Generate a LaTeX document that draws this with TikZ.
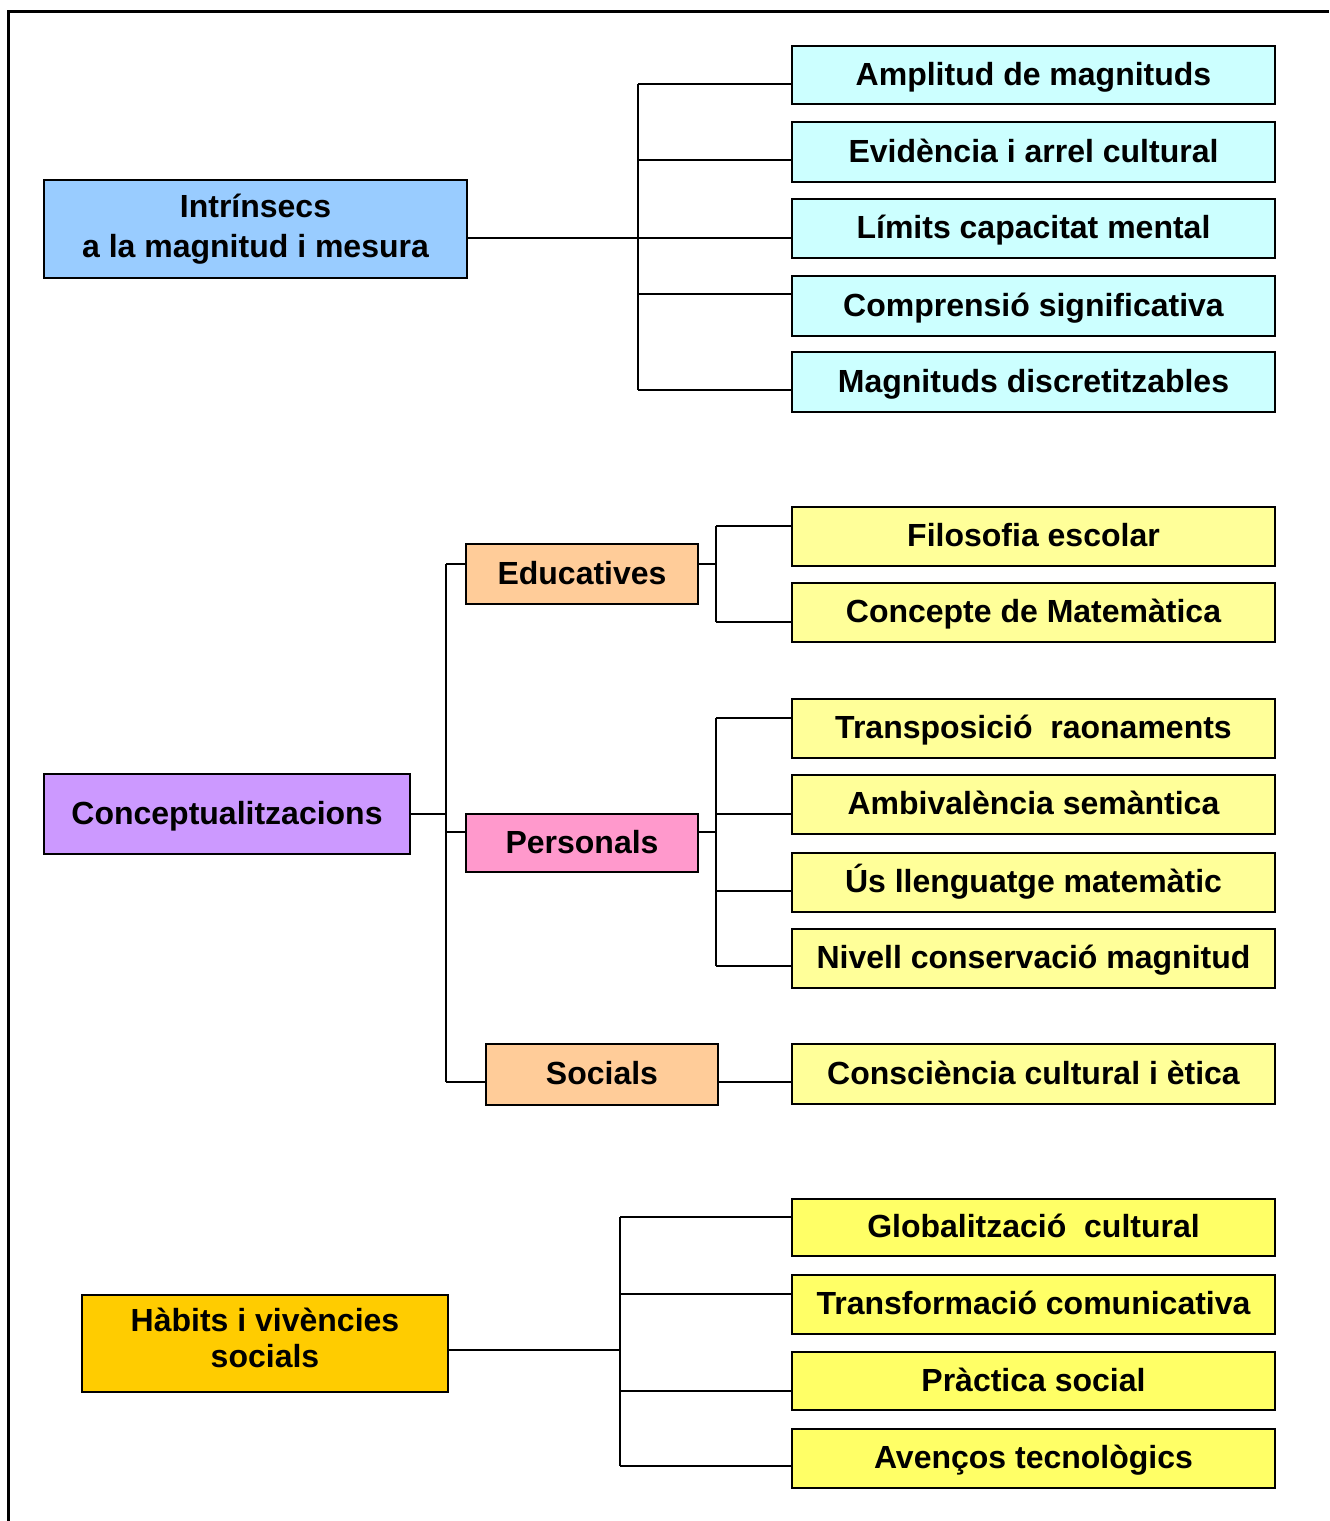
\documentclass[tikz,border=0pt]{standalone}
\usepackage{fontspec}
\setmainfont{Liberation Sans}

\definecolor{cyanbox}{HTML}{CCFFFF}
\definecolor{bluebox}{HTML}{99CCFF}
\definecolor{violetbox}{HTML}{CC99FF}
\definecolor{peachbox}{HTML}{FFCC99}
\definecolor{pinkbox}{HTML}{FF99CC}
\definecolor{paleyellow}{HTML}{FFFF99}
\definecolor{brightyellow}{HTML}{FFFF66}
\definecolor{goldbox}{HTML}{FFCC00}

\begin{document}
\begin{tikzpicture}[x=0.75pt,y=-0.75pt,
  box/.style={draw=black, line width=1.5pt, inner sep=0pt, align=center,
    font=\bfseries\fontsize{24}{30}\selectfont},
  oneline/.style={box, text height=19.5pt, text depth=4pt},
  % rectangle given by its corners x1,y1,x2,y2
  rect/.style n args={4}{minimum width={(#3-#1)*0.75pt},
    minimum height={(#4-#2)*0.75pt}, at={({(#1+#3)/2},{(#2+#4)/2})}},
  link/.style={draw=black, line width=1.5pt},
  frameline/.style={draw=black, line width=2.4pt, line join=miter}]
\useasboundingbox (0,0) rectangle (1329,1521);

% outer frame (only top and left edges fall inside the page)
\draw[frameline] (8.5,1521) -- (8.5,11.5) -- (1329,11.5);

% ---------- first group ----------
\node[box, fill=bluebox, rect={44}{180}{467}{278}] (intr) {Intrínsecs\\a la magnitud i mesura};
\node[oneline, fill=cyanbox, rect={792}{46}{1275}{104}]  (amp)  {Amplitud de magnituds};
\node[oneline, fill=cyanbox, rect={792}{122}{1275}{182}] (evi)  {Evidència i arrel cultural};
\node[oneline, fill=cyanbox, rect={792}{199}{1275}{258}] (lim)  {Límits capacitat mental};
\node[oneline, fill=cyanbox, rect={792}{276}{1275}{336}] (comp) {Comprensió significativa};
\node[oneline, fill=cyanbox, rect={792}{352}{1275}{412}] (disc) {Magnituds discretitzables};

\coordinate (t1) at (638,84);
\coordinate (t2) at (638,160);
\coordinate (tm) at (638,238);
\coordinate (t4) at (638,294);
\coordinate (t5) at (638,390);
\draw[link] (intr.east |- tm) -- (lim.west |- tm);
\draw[link] (t1) -- (t5);
\draw[link] (t1) -- (amp.west |- t1);
\draw[link] (t2) -- (evi.west |- t2);
\draw[link] (t4) -- (comp.west |- t4);
\draw[link] (t5) -- (disc.west |- t5);

% ---------- second group ----------
\node[oneline, fill=violetbox, rect={44}{774}{410}{854}] (conc) {Conceptualitzacions};
\node[oneline, fill=peachbox, rect={466}{544}{698}{604}]  (edu)  {Educatives};
\node[oneline, fill=pinkbox,  rect={466}{814}{698}{872}]  (pers) {Personals};
\node[oneline, fill=peachbox, rect={486}{1044}{718}{1105}] (soc) {Socials};

\node[oneline, fill=paleyellow, rect={792}{507}{1275}{566}]  (filo) {Filosofia escolar};
\node[oneline, fill=paleyellow, rect={792}{583}{1275}{642}]  (cmat) {Concepte de Matemàtica};
\node[oneline, fill=paleyellow, rect={792}{699}{1275}{758}]  (tras) {Transposició\ \ raonaments};
\node[oneline, fill=paleyellow, rect={792}{775}{1275}{834}]  (ambi) {Ambivalència semàntica};
\node[oneline, fill=paleyellow, rect={792}{853}{1275}{912}]  (llen) {Ús llenguatge matemàtic};
\node[oneline, fill=paleyellow, rect={792}{929}{1275}{988}]  (nive) {Nivell conservació magnitud};
\node[oneline, fill=paleyellow, rect={792}{1044}{1275}{1104}] (cons) {Consciència cultural i ètica};

\coordinate (m1) at (446,564);
\coordinate (mc) at (446,814);
\coordinate (m2) at (446,832);
\coordinate (m3) at (446,1082);
\draw[link] (conc.east |- mc) -- (mc);
\draw[link] (m1) -- (m3);
\draw[link] (m1) -- (edu.west |- m1);
\draw[link] (m2) -- (pers.west |- m2);
\draw[link] (m3) -- (soc.west |- m3);

\coordinate (e1) at (716,526);
\coordinate (em) at (716,564);
\coordinate (e2) at (716,622);
\draw[link] (edu.east |- em) -- (em);
\draw[link] (e1) -- (e2);
\draw[link] (e1) -- (filo.west |- e1);
\draw[link] (e2) -- (cmat.west |- e2);

\coordinate (p1) at (716,718);
\coordinate (p2) at (716,814);
\coordinate (pm) at (716,832);
\coordinate (p3) at (716,891);
\coordinate (p4) at (716,966);
\draw[link] (pers.east |- pm) -- (pm);
\draw[link] (p1) -- (p4);
\draw[link] (p1) -- (tras.west |- p1);
\draw[link] (p2) -- (ambi.west |- p2);
\draw[link] (p3) -- (llen.west |- p3);
\draw[link] (p4) -- (nive.west |- p4);

\coordinate (s1) at (755,1082);
\draw[link] (soc.east |- s1) -- (cons.west |- s1);

% ---------- third group ----------
\node[box, fill=goldbox, rect={82}{1295}{448}{1392}, font=\bfseries\fontsize{24}{27}\selectfont] (habi) {Hàbits i vivències\\socials\rule[-9pt]{0pt}{0pt}};
\node[oneline, fill=brightyellow, rect={792}{1199}{1275}{1256}] (glob) {Globalització\ \ cultural};
\node[oneline, fill=brightyellow, rect={792}{1275}{1275}{1334}] (trans) {Transformació comunicativa};
\node[oneline, fill=brightyellow, rect={792}{1352}{1275}{1410}] (prac) {Pràctica social};
\node[oneline, fill=brightyellow, rect={792}{1429}{1275}{1488}] (avan) {Avenços tecnològics};

\coordinate (b1) at (620,1217);
\coordinate (b2) at (620,1294);
\coordinate (bm) at (620,1350);
\coordinate (b3) at (620,1391);
\coordinate (b4) at (620,1466);
\draw[link] (habi.east |- bm) -- (bm);
\draw[link] (b1) -- (b4);
\draw[link] (b1) -- (glob.west |- b1);
\draw[link] (b2) -- (trans.west |- b2);
\draw[link] (b3) -- (prac.west |- b3);
\draw[link] (b4) -- (avan.west |- b4);
\end{tikzpicture}
\end{document}
